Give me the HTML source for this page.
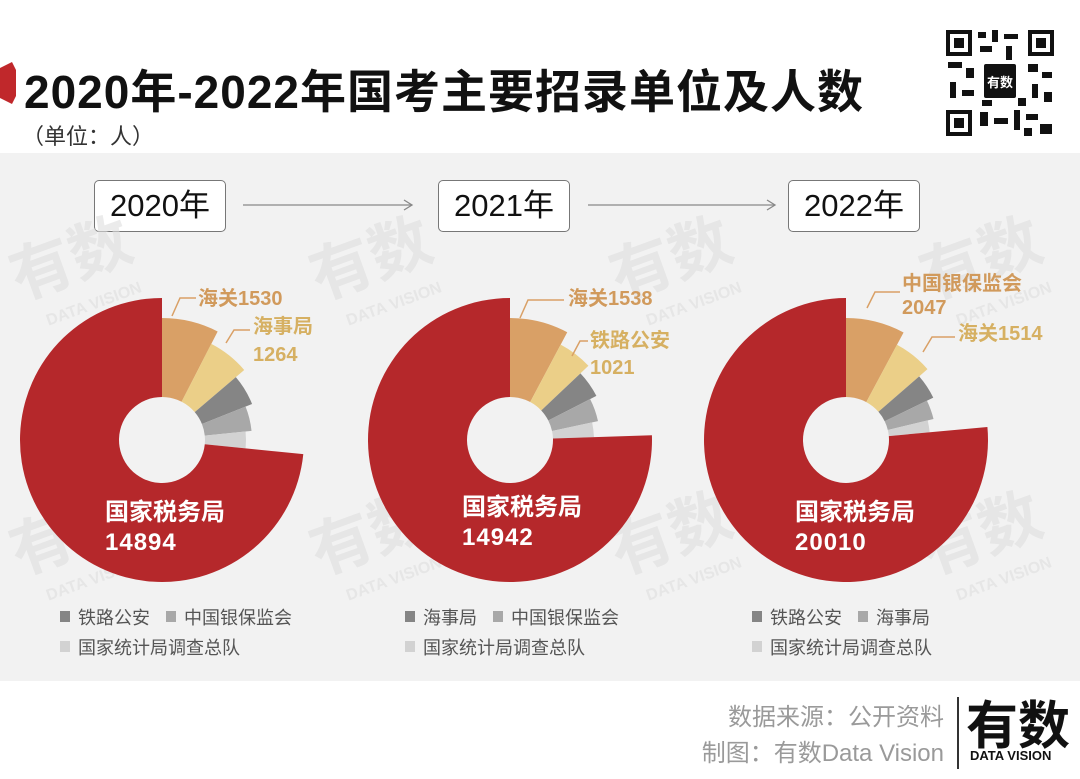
<!DOCTYPE html>
<html><head><meta charset="utf-8">
<style>
body{margin:0;width:1080px;height:779px;overflow:hidden;background:#fff;font-family:"Liberation Sans","Noto Sans CJK SC",sans-serif;position:relative}
.abs{position:absolute}
.band{left:0;top:153px;width:1080px;height:528px;background:#f2f2f2}
.title{left:24px;top:56px;font-size:46px;font-weight:bold;color:#111;letter-spacing:1px;white-space:nowrap}
.unit{left:22px;top:119px;font-size:22px;color:#333}
.year{top:180px;height:50px;width:130px;border:1.5px solid #777;border-radius:5px;background:#fff;font-size:31px;line-height:50px;text-align:center;color:#111}
.foot{right:136px;font-size:24px;color:#9a9a9a;text-align:right;white-space:nowrap}
</style></head><body>
<div class="abs band"></div>
<svg class="abs" style="left:0;top:62px" width="16" height="42"><polygon points="0,6 12,0 16,8 16,34 12,42 0,36" fill="#c0282b"/></svg>
<div class="abs title">2020年-2022年国考主要招录单位及人数</div>
<div class="abs unit">（单位：人）</div>
<svg class="abs" style="left:944px;top:28px" width="112" height="110">
<rect width="112" height="110" fill="#fff"/>
<g fill="#111">
<rect x="2" y="2" width="26" height="26"/><rect x="84" y="2" width="26" height="26"/><rect x="2" y="82" width="26" height="26"/>
</g>
<g fill="#fff"><rect x="6" y="6" width="18" height="18"/><rect x="88" y="6" width="18" height="18"/><rect x="6" y="86" width="18" height="18"/></g>
<g fill="#111"><rect x="10" y="10" width="10" height="10"/><rect x="92" y="10" width="10" height="10"/><rect x="10" y="90" width="10" height="10"/>
<rect x="34" y="4" width="8" height="6"/><rect x="48" y="2" width="6" height="12"/><rect x="60" y="6" width="14" height="5"/><rect x="36" y="18" width="12" height="6"/><rect x="62" y="18" width="6" height="14"/>
<rect x="4" y="34" width="14" height="6"/><rect x="22" y="40" width="8" height="10"/><rect x="6" y="54" width="6" height="16"/><rect x="18" y="62" width="12" height="6"/>
<rect x="84" y="36" width="10" height="8"/><rect x="98" y="44" width="10" height="6"/><rect x="88" y="56" width="6" height="14"/><rect x="100" y="64" width="8" height="10"/>
<rect x="36" y="84" width="8" height="14"/><rect x="50" y="90" width="14" height="6"/><rect x="70" y="82" width="6" height="20"/><rect x="82" y="86" width="12" height="6"/><rect x="96" y="96" width="12" height="10"/>
<rect x="38" y="72" width="10" height="6"/><rect x="74" y="70" width="8" height="8"/><rect x="80" y="100" width="8" height="8"/>
<rect x="40" y="36" width="32" height="34" rx="2"/></g>
<text x="56" y="59" font-size="13" fill="#fff" text-anchor="middle" font-weight="bold">有数</text>
</svg>

<div class="abs year" style="left:94px">2020年</div>
<div class="abs year" style="left:438px">2021年</div>
<div class="abs year" style="left:788px">2022年</div>
<svg class="abs" style="left:0;top:0" width="1080" height="779" id="chart">
<g fill="#888" stroke="#888" stroke-width="1.3">
<line x1="243" y1="205" x2="412" y2="205"/><polyline points="404,200 412,205 404,210" fill="none"/>
<line x1="588" y1="205" x2="775" y2="205"/><polyline points="767,200 775,205 767,210" fill="none"/>
</g>
<g id="wm" font-weight="bold" fill="#dedede" opacity="0.6"></g>
<g id="marks"></g>
</svg>

<div class="abs foot" style="top:697px">数据来源：公开资料</div>
<div class="abs foot" style="top:733px">制图：有数Data Vision</div>
<div class="abs" style="left:957px;top:697px;width:1.5px;height:72px;background:#333"></div>
<div class="abs" style="left:966px;top:684px;font-size:52px;font-weight:bold;color:#111;letter-spacing:0px">有数</div>
<div class="abs" style="left:970px;top:748px;font-size:13px;font-weight:bold;color:#111">DATA VISION</div>

<script>
const years = ["2020","2021","2022"];
const names2020 = ["海关","海事局","铁路公安","中国银保监会","国家统计局调查总队","国家税务局"];
const values2020 = [1530,1264,1050,900,650,14894];
const names2021 = ["海关","铁路公安","海事局","中国银保监会","国家统计局调查总队","国家税务局"];
const values2021 = [1538,1021,900,820,560,14942];
const names2022 = ["中国银保监会","海关","铁路公安","海事局","国家统计局调查总队","国家税务局"];
const values2022 = [2047,1514,1100,900,600,20010];

const NS="http://www.w3.org/2000/svg";
const svg=document.getElementById('marks');
const wm=document.getElementById('wm');
const colors=["#d9a066","#ebcf88","#858585","#a8a8a8","#d2d2d2","#b5282b"];
const radii=[122,108,97,90,84,142];
const centers=[[162,440],[510,440],[846,440]];
const inner=43;
const labelPos=[
 [{lead:[[172,316],[180,298],[196,298]],tx:198,ty:[305]},{lead:[[226,343],[234,330],[250,330]],tx:253,ty:[333,361]}],
 [{lead:[[520,318],[528,300],[564,300]],tx:568,ty:[305]},{lead:[[572,356],[580,341],[588,341]],tx:590,ty:[347,374]}],
 [{lead:[[867,308],[875,292],[900,292]],tx:902,ty:[290,314]},{lead:[[923,352],[932,337],[955,337]],tx:958,ty:[340]}]
];
const redLabel=[[105,520],[462,515],[795,520]];
const legendX=[60,405,752];

function el(tag,attrs,parent){const e=document.createElementNS(NS,tag);for(const k in attrs)e.setAttribute(k,attrs[k]);parent.appendChild(e);return e;}
function pt(cx,cy,r,a){return [cx+r*Math.sin(a),cy-r*Math.cos(a)];}
function arcPath(cx,cy,r0,r1,a0,a1){
 const large=(a1-a0)>Math.PI?1:0;
 const p0=pt(cx,cy,r1,a0),p1=pt(cx,cy,r1,a1),p2=pt(cx,cy,r0,a1),p3=pt(cx,cy,r0,a0);
 return `M${p0[0]},${p0[1]}A${r1},${r1} 0 ${large} 1 ${p1[0]},${p1[1]}L${p2[0]},${p2[1]}A${r0},${r0} 0 ${large} 0 ${p3[0]},${p3[1]}Z`;
}
[[20,300],[320,300],[620,300],[930,300],[20,575],[320,575],[620,575],[930,575]].forEach(p=>{
 const g=el('g',{transform:`translate(${p[0]},${p[1]}) rotate(-20)`},wm);
 
 
 el('text',{x:0,y:0,'font-size':62},g).textContent="有数";
 el('text',{x:18,y:34,'font-size':16},g).textContent="DATA VISION";
});

const allNames=[names2020,names2021,names2022];
const allVals=[values2020,values2021,values2022];
allVals.forEach((vals,ci)=>{
 const [cx,cy]=centers[ci];
 const total=vals.reduce((a,b)=>a+b,0);
 let a=0;
 vals.forEach((v,i)=>{
  const span=v/total*2*Math.PI;
  const p=el('path',{d:arcPath(cx,cy,inner,radii[i],a,a+span),fill:colors[i]},svg);
  
  
  a+=span;
 });
 [0,1].forEach(i=>{
  const L=labelPos[ci][i];
  const pl=el('polyline',{points:L.lead.map(q=>q.join(',')).join(' '),fill:'none',stroke:colors[0],'stroke-width':1.5},svg);
  
  
  const lines=L.ty.length===1?[allNames[ci][i]+vals[i]]:[allNames[ci][i],String(vals[i])];
  lines.forEach((s,k)=>{
   const t=el('text',{x:L.tx,y:L.ty[k],'font-size':20,'font-weight':'bold',fill:i===0?'#d19a5c':'#d6b062'},svg);
   
   
   t.textContent=s;
  });
 });
 const [rx,ry]=redLabel[ci];
 const t1=el('text',{x:rx,y:ry,'font-size':24,'font-weight':'bold',fill:'#fff'},svg);
 
 
 t1.textContent=allNames[ci][5];
 const t2=el('text',{x:rx,y:ry+30,'font-size':24,'font-weight':'bold',fill:'#fff','letter-spacing':1},svg);
 
 
 t2.textContent=vals[5];
 const lx=legendX[ci];
 const w1=allNames[ci][2].length*18;
 const items=[[lx,617,2],[lx+w1+34,617,3],[lx,647,4]];
 items.forEach(([x,y,i])=>{
  const r=el('rect',{x:x,y:y-6,width:10,height:11,fill:colors[i]},svg);
  
  
  const t=el('text',{x:x+18,y:y+7,'font-size':18,fill:'#555'},svg);
  
  
  t.textContent=allNames[ci][i];
 });
});
</script>
</body></html>
